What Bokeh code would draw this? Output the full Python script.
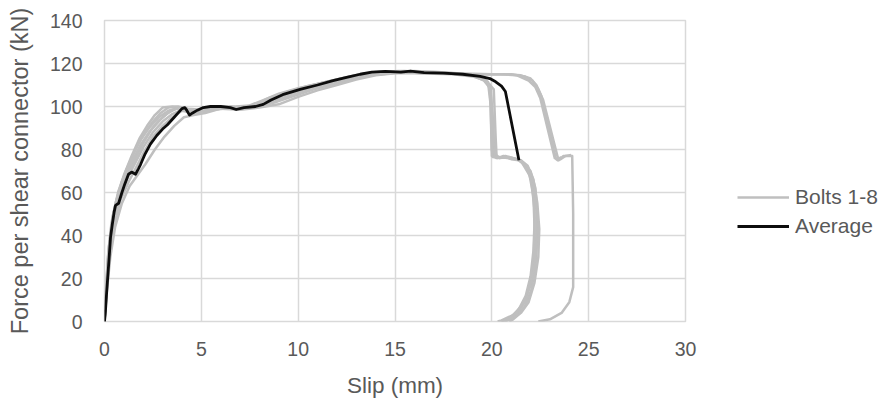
from bokeh.plotting import figure
from bokeh.layouts import row
from bokeh.models import Range1d, Legend, LegendItem, FixedTicker
from bokeh.embed import file_html
from bokeh.resources import INLINE

# ---------------- data ----------------
x_ticks = [0, 5, 10, 15, 20, 25, 30]
y_ticks = [0, 20, 40, 60, 80, 100, 120, 140]

avg_x = [0.0, 0.05, 0.1, 0.17, 0.25, 0.31, 0.4, 0.5, 0.57, 0.73, 0.9, 1.05, 1.24, 1.4, 1.6, 1.75,
         1.86, 2.1, 2.37, 2.7, 3.0, 3.25, 3.6, 4.0, 4.15, 4.23, 4.39, 4.55, 4.8, 5.1, 5.47, 6.0,
         6.5, 6.8, 7.2, 7.8, 8.2, 8.6, 9.2, 10.1, 11.0, 11.8, 12.5, 13.2, 13.8, 14.5, 15.3, 15.8,
         16.5, 17.5, 18.5, 19.4, 19.9, 20.2, 20.5, 20.7, 21.4]
avg_y = [0, 5, 12, 21, 31, 39, 45, 51, 54, 55, 60, 64, 68.5, 69.5, 68.5, 71,
         73, 78, 82.5, 86.5, 89.5, 91.5, 95, 99, 99.5, 98.5, 96, 97, 98.3, 99.5, 100, 100,
         99.5, 98.6, 99.5, 100, 101, 103, 105.5, 108, 110, 112, 113.5, 115, 116, 116.3, 116, 116.5,
         115.8, 115.5, 115, 114, 113, 111.5, 109.5, 107, 75]

bolt1_x = [0, 0.08, 0.2, 0.4, 0.7, 1.0, 1.4, 1.8, 2.2, 2.6, 3.0, 3.5, 4.0, 4.6, 5.2, 6.0, 7.0, 7.8,
           8.5, 9.5, 10.5, 11.5, 12.5, 13.5, 14.5, 15.5, 16.5, 17.5, 18.5, 19.3, 19.8, 19.95, 20.0,
           20.3, 20.6, 21.0, 21.4, 21.8, 22.05, 22.2, 22.2, 22.15, 21.95, 21.6, 21.1, 20.5, 20.3]
bolt1_y = [0, 15, 33, 48, 60, 68, 77, 85, 91, 96, 99.5, 100, 99.5, 98, 99, 100, 99.5, 101,
           104, 107, 109.5, 111.5, 113.5, 115.5, 116, 116.5, 116, 115.5, 115, 114, 111.5, 100, 77,
           76, 77, 75.5, 75, 72, 65, 52, 40, 28, 16, 8, 3, 0.5, 0]

bolt2_x = [0, 0.1, 0.25, 0.5, 0.8, 1.2, 1.6, 2.0, 2.5, 3.0, 3.5, 4.0, 4.5, 5.0, 6.0, 7.0, 8.0, 8.8,
           9.8, 10.8, 11.8, 12.8, 13.8, 14.8, 15.8, 16.8, 17.8, 18.8, 19.5, 19.9, 20.05, 20.1,
           20.4, 20.8, 21.3, 21.6, 22.0, 22.25, 22.35, 22.35, 22.25, 22.05, 21.7, 21.2, 20.7]
bolt2_y = [0, 15, 32, 47, 58, 67, 74, 81, 88, 93, 96.5, 98.5, 97, 98, 99.5, 99, 100, 102,
           105, 108, 110.5, 112.5, 114.5, 115.5, 116, 115.8, 115.5, 115, 113.5, 110, 95, 77,
           76.5, 76, 75.5, 74, 70, 62, 50, 38, 26, 15, 7, 2.5, 0]

bolt3_x = [0, 0.07, 0.18, 0.35, 0.6, 0.9, 1.3, 1.7, 2.1, 2.5, 2.9, 3.3, 3.8, 4.3, 5.0, 5.8, 6.8,
           7.5, 8.2, 9.0, 10.0, 11.0, 12.0, 13.0, 14.0, 15.0, 16.0, 17.0, 18.0, 19.0, 19.6, 19.95,
           20.15, 20.4, 20.7, 21.1, 21.5, 21.85, 22.15, 22.35, 22.45, 22.4, 22.2, 21.9, 21.5, 21.1, 20.9]
bolt3_y = [0, 14, 30, 45, 56, 65, 74, 82, 88, 93, 97, 99.5, 100, 99, 98.5, 99.5, 100,
           100.5, 103, 106, 108.5, 110.5, 112.5, 114.5, 116, 116.2, 116.5, 116, 115.5, 114.5, 112, 108,
           78, 76, 77, 76, 75, 72.5, 66, 55, 43, 30, 18, 9, 4, 1, 0]

bolt4_x = [0, 0.12, 0.3, 0.55, 0.9, 1.3, 1.7, 2.1, 2.6, 3.1, 3.6, 4.1, 4.6, 5.2, 6.0, 7.0, 8.0,
           9.0, 10.0, 11.0, 12.0, 13.0, 14.0, 15.0, 16.0, 17.0, 18.0, 19.0, 19.7, 20.1, 20.2, 20.25,
           20.6, 21.0, 21.5, 21.9, 22.15, 22.3, 22.3, 22.2, 22.0, 21.7, 21.3, 20.9, 20.5]
bolt4_y = [0, 14, 30, 44, 55, 63, 68, 73, 80, 86, 91, 95, 96, 97, 99, 98.5, 99.5,
           101, 104.5, 107.5, 110, 112.5, 114.5, 115.5, 115.5, 115.2, 115, 114, 112, 108, 85, 76,
           76.5, 76, 75, 71, 64, 52, 40, 28, 17, 9, 4, 1, 0]

bolt5_x = [0, 0.1, 0.22, 0.45, 0.75, 1.1, 1.5, 1.9, 2.3, 2.8, 3.3, 3.9, 4.4, 5.0, 5.8, 6.6, 7.5,
           8.3, 9.2, 10.2, 11.2, 12.2, 13.2, 14.2, 15.2, 16.2, 17.2, 18.2, 19.0, 19.6, 19.9, 20.0,
           20.05, 20.4, 20.9, 21.3, 21.55, 21.95, 22.15, 22.2, 22.15, 22.0, 21.75, 21.35, 20.9, 20.5]
bolt5_y = [0, 16, 34, 50, 61, 70, 78, 85, 90, 95, 98, 99.5, 98, 99, 100, 99.5, 100,
           102.5, 105.5, 108.5, 111, 113, 115, 116, 116.5, 116.2, 116, 115.5, 114.5, 112.5, 109, 80,
           76.5, 76, 76.5, 75.5, 74, 68, 58, 45, 33, 21, 12, 5, 1.5, 0]

bolt6_x = [0, 0.1, 0.25, 0.5, 0.85, 1.2, 1.6, 2.0, 2.4, 2.9, 3.4, 3.9, 4.5, 5.2, 6.0, 7.0, 8.0,
           8.8, 9.7, 10.7, 11.7, 12.7, 13.7, 14.7, 15.7, 16.7, 17.7, 18.7, 19.7, 20.7, 21.5, 22.0,
           22.3, 22.55, 23.3, 23.45, 23.7, 24.15, 24.2, 24.2, 24.0, 23.6, 23.0, 22.4]
bolt6_y = [0, 15, 33, 49, 60, 68, 76, 83, 89, 94, 98, 99.5, 97.5, 98.5, 99.5, 99, 100.5,
           103, 106, 109, 111.5, 113.5, 115, 116, 116, 115.8, 115.5, 115, 115, 115, 114.5, 113,
           110, 105, 76, 75, 77, 77, 50, 16, 9, 4, 1, 0]

bolt7_x = [0, 0.09, 0.22, 0.42, 0.7, 1.05, 1.45, 1.85, 2.3, 2.75, 3.2, 3.7, 4.2, 4.9, 5.6, 6.5,
           7.4, 8.2, 9.0, 10.0, 11.0, 12.0, 13.0, 14.0, 15.0, 16.0, 17.0, 18.0, 19.0, 20.0, 21.0,
           21.7, 22.1, 22.4, 22.65, 23.4, 23.55, 23.8, 24.1]
bolt7_y = [0, 14, 31, 46, 58, 67, 75, 82, 88, 93, 96.5, 99, 98, 98.5, 99.5, 100,
           99.5, 101, 104, 107.5, 110, 112, 114, 115.5, 116, 116, 115.5, 115.5, 115.2, 115, 115,
           114, 112, 108, 103, 76.5, 75.5, 77, 77.5]

bolt8_x = [0, 0.11, 0.28, 0.52, 0.85, 1.25, 1.65, 2.05, 2.5, 3.0, 3.5, 4.0, 4.6, 5.3, 6.1, 7.0,
           7.9, 8.7, 9.5, 10.5, 11.5, 12.5, 13.5, 14.5, 15.5, 16.5, 17.5, 18.5, 19.5, 20.5, 21.3,
           21.9, 22.25, 22.5, 23.25, 23.4, 23.6]
bolt8_y = [0, 14, 31, 46, 57, 65, 72, 79, 86, 91, 95, 98, 97, 98, 99, 99.5,
           100, 102, 104.5, 107.5, 110, 112.5, 114.5, 115.5, 116, 115.5, 115.5, 115, 115, 115, 114.5,
           112, 109, 104, 76, 75, 76.5]

bolts = [(bolt1_x, bolt1_y), (bolt2_x, bolt2_y), (bolt3_x, bolt3_y), (bolt4_x, bolt4_y),
         (bolt5_x, bolt5_y), (bolt6_x, bolt6_y), (bolt7_x, bolt7_y), (bolt8_x, bolt8_y)]

series_labels = ["Bolts 1-8", "Average"]
x_title = "Slip (mm)"
y_title = "Force per shear connector (kN)"

# ---------------- styles ----------------
FONT = "Liberation Sans"
TXT = "#595959"
GRID = "#d9d9d9"
BOLT_COLOR = "#bfbfbf"
AVG_COLOR = "#0d0d0d"

p = figure(width=700, height=400, output_backend="svg", toolbar_location=None,
           x_range=Range1d(0, 30), y_range=Range1d(0, 140),
           min_border_left=104, min_border_right=15, min_border_top=20, min_border_bottom=71)
p.background_fill_color = "white"
p.border_fill_color = "white"
p.outline_line_color = GRID
p.outline_line_width = 1.5

for bx, by in bolts:
    p.line(bx, by, line_color=BOLT_COLOR, line_width=2.5, line_join="round")
p.line(avg_x, avg_y, line_color=AVG_COLOR, line_width=2.8, line_join="round")

p.xaxis.ticker = FixedTicker(ticks=x_ticks)
p.yaxis.ticker = FixedTicker(ticks=y_ticks)
for g in (p.xgrid, p.ygrid):
    g.grid_line_color = GRID
    g.grid_line_width = 1.5
p.xgrid.ticker = FixedTicker(ticks=x_ticks)
p.ygrid.ticker = FixedTicker(ticks=y_ticks)

for ax in (p.xaxis, p.yaxis):
    ax.axis_line_color = None
    ax.major_tick_line_color = None
    ax.minor_tick_line_color = None
    ax.major_tick_out = 0
    ax.major_tick_in = 0
    ax.major_label_text_font = FONT
    ax.major_label_text_font_size = "19.5px"
    ax.major_label_text_color = TXT
    ax.axis_label_text_font = FONT
    ax.axis_label_text_color = TXT
    ax.axis_label_text_font_style = "normal"
p.xaxis.axis_label_text_font_size = "22.5px"
p.yaxis.axis_label_text_font_size = "23.5px"

p.xaxis.axis_label = x_title
p.yaxis.axis_label = y_title
p.xaxis.major_label_standoff = 20
p.xaxis.axis_label_standoff = 14
p.yaxis.major_label_standoff = 22
p.yaxis.axis_label_standoff = 14

# ---------------- legend (own panel to the right of the chart) ----------------
nan = float("nan")
lg = figure(width=188, height=400, output_backend="svg", toolbar_location=None,
            x_range=Range1d(0, 1), y_range=Range1d(0, 1),
            x_axis_type=None, y_axis_type=None,
            min_border_left=0, min_border_right=0, min_border_top=20, min_border_bottom=71)
lg.outline_line_color = None
lg.background_fill_color = "white"
lg.border_fill_color = "white"
lg.xgrid.visible = False
lg.ygrid.visible = False
r_b = lg.line([nan], [nan], line_color=BOLT_COLOR, line_width=2.5)
r_a = lg.line([nan], [nan], line_color=AVG_COLOR, line_width=2.8)

legend = Legend(items=[LegendItem(label=series_labels[0], renderers=[r_b]),
                       LegendItem(label=series_labels[1], renderers=[r_a])],
                location=(37, 83))
legend.background_fill_alpha = 0
legend.border_line_color = None
legend.padding = 0
legend.margin = 0
legend.glyph_width = 52
legend.glyph_height = 24
legend.label_height = 24
legend.spacing = 5
legend.label_standoff = 6
legend.label_text_font = FONT
legend.label_text_font_size = "21px"
legend.label_text_color = TXT
lg.add_layout(legend, "center")

layout = row(p, lg, spacing=0)
open("out.html", "w").write(file_html(layout, INLINE))
